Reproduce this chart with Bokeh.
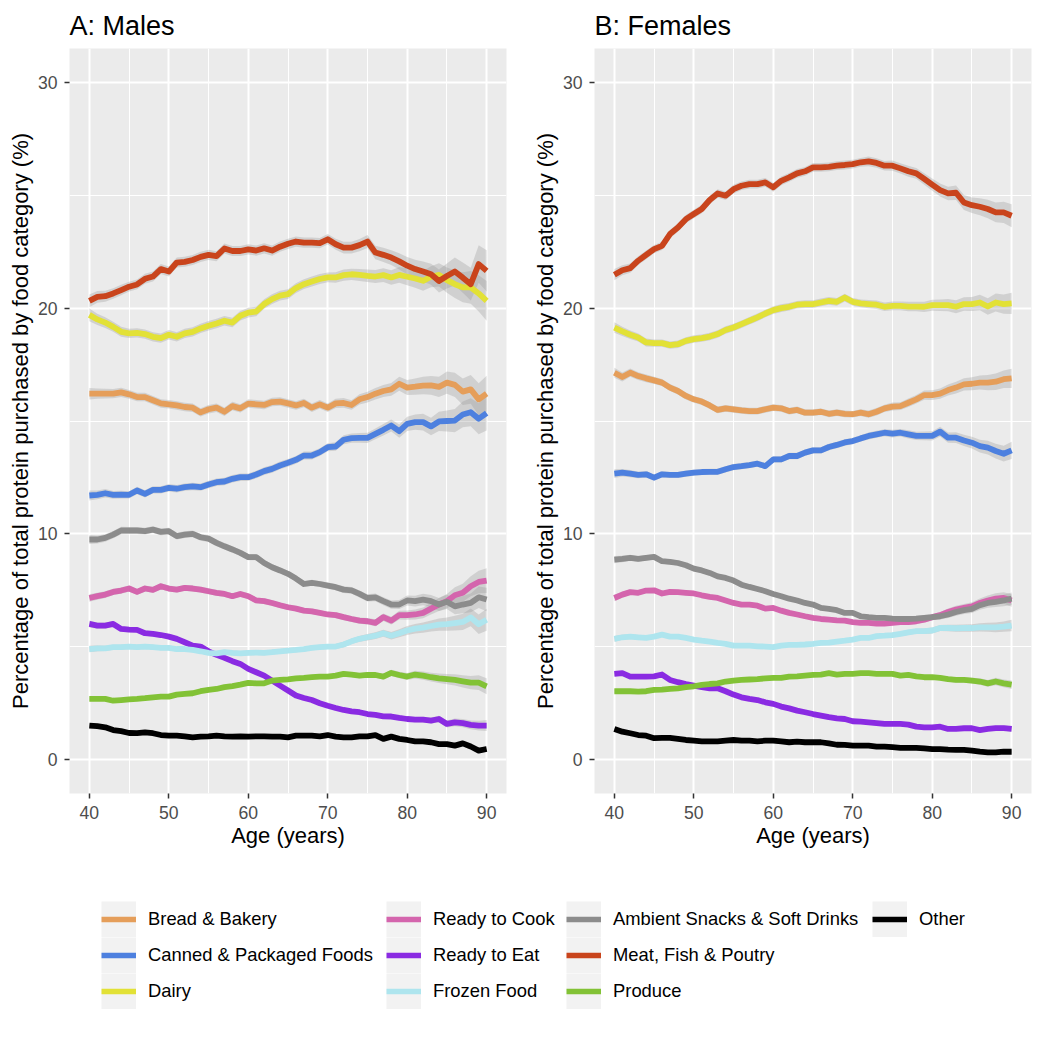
import numpy as np
from bokeh.plotting import figure
from bokeh.models import Range1d, FixedTicker, Legend, LegendItem
from bokeh.layouts import column, row
from bokeh.embed import file_html
from bokeh.resources import INLINE

FONT = "Liberation Sans"

ages = list(range(40, 91))

categories = ["Bread & Bakery", "Canned & Packaged Foods", "Dairy", "Ready to Cook",
              "Ready to Eat", "Frozen Food", "Ambient Snacks & Soft Drinks",
              "Meat, Fish & Poutry", "Produce", "Other"]
colors = ["#E59E5A", "#4D80DF", "#E2E136", "#D465AD", "#8A2BE2", "#AEE5EE",
          "#8C8C8C", "#C9441C", "#82C236", "#000000"]

x_ticks = [40, 50, 60, 70, 80, 90]
x_minor = [45, 55, 65, 75, 85]
y_ticks = [0, 10, 20, 30]
y_minor = [5, 15, 25]

# ---------------- Males ----------------
m_bread = [16.21, 16.21, 16.21, 16.21, 16.27, 16.18, 16.06, 16.06, 15.92, 15.78,
           15.74, 15.69, 15.62, 15.59, 15.38, 15.52, 15.59, 15.41, 15.66, 15.56,
           15.77, 15.74, 15.71, 15.84, 15.86, 15.78, 15.69, 15.80, 15.59, 15.74,
           15.59, 15.78, 15.80, 15.71, 15.96, 16.06, 16.21, 16.33, 16.40, 16.65,
           16.48, 16.52, 16.57, 16.58, 16.51, 16.70, 16.60, 16.30, 16.40, 15.96, 16.21]
m_canned = [11.70, 11.73, 11.80, 11.73, 11.74, 11.73, 11.92, 11.77, 11.95, 11.95,
            12.04, 12.00, 12.07, 12.10, 12.07, 12.19, 12.29, 12.32, 12.44, 12.51,
            12.51, 12.63, 12.78, 12.88, 13.03, 13.15, 13.28, 13.47, 13.47, 13.62,
            13.84, 13.87, 14.17, 14.24, 14.25, 14.25, 14.43, 14.61, 14.80, 14.55,
            14.87, 14.95, 14.95, 14.76, 14.98, 15.00, 15.02, 15.29, 15.39, 15.10, 15.35]
m_dairy = [19.70, 19.50, 19.36, 19.17, 18.95, 18.88, 18.90, 18.85, 18.73, 18.67,
           18.82, 18.73, 18.88, 18.95, 19.10, 19.22, 19.32, 19.44, 19.36, 19.66,
           19.80, 19.85, 20.18, 20.40, 20.55, 20.62, 20.89, 21.06, 21.18, 21.29,
           21.36, 21.36, 21.46, 21.50, 21.47, 21.43, 21.40, 21.46, 21.36, 21.47,
           21.39, 21.31, 21.21, 21.39, 21.47, 21.24, 21.06, 20.92, 20.92, 20.65, 20.32]
m_ready_cook = [7.16, 7.24, 7.31, 7.43, 7.49, 7.58, 7.43, 7.58, 7.52, 7.68,
                7.58, 7.53, 7.61, 7.58, 7.53, 7.46, 7.39, 7.34, 7.24, 7.34,
                7.24, 7.05, 7.02, 6.94, 6.84, 6.75, 6.69, 6.60, 6.57, 6.50,
                6.43, 6.40, 6.31, 6.23, 6.16, 6.13, 6.06, 6.31, 6.16, 6.40,
                6.40, 6.43, 6.50, 6.69, 6.87, 7.02, 7.28, 7.39, 7.68, 7.87, 7.93]
m_ready_eat = [6.01, 5.94, 5.94, 6.01, 5.79, 5.76, 5.75, 5.60, 5.57, 5.52,
               5.45, 5.35, 5.20, 5.05, 5.01, 4.80, 4.64, 4.51, 4.36, 4.24,
               4.02, 3.87, 3.72, 3.50, 3.28, 3.06, 2.84, 2.73, 2.64, 2.50,
               2.39, 2.29, 2.20, 2.14, 2.10, 2.02, 1.98, 1.92, 1.91, 1.85,
               1.80, 1.77, 1.77, 1.73, 1.80, 1.58, 1.65, 1.62, 1.54, 1.51, 1.51]
m_frozen = [4.90, 4.93, 4.93, 4.98, 4.98, 5.01, 4.98, 5.01, 4.98, 4.95,
            4.95, 4.90, 4.90, 4.86, 4.80, 4.73, 4.71, 4.76, 4.73, 4.71,
            4.73, 4.74, 4.73, 4.76, 4.80, 4.83, 4.86, 4.90, 4.95, 4.98,
            5.01, 5.01, 5.10, 5.24, 5.35, 5.42, 5.49, 5.60, 5.49, 5.60,
            5.72, 5.80, 5.85, 5.92, 5.98, 6.00, 6.05, 6.10, 6.30, 6.00, 6.20]
m_ambient = [9.75, 9.75, 9.82, 9.97, 10.15, 10.15, 10.15, 10.12, 10.19, 10.09,
             10.12, 9.90, 9.97, 10.00, 9.85, 9.79, 9.60, 9.45, 9.31, 9.16,
             8.97, 8.97, 8.71, 8.52, 8.38, 8.23, 8.02, 7.78, 7.83, 7.78,
             7.71, 7.64, 7.53, 7.50, 7.34, 7.16, 7.19, 7.02, 6.87, 6.87,
             7.05, 7.02, 7.09, 7.02, 6.87, 6.99, 6.79, 6.87, 6.94, 7.19, 7.09]
m_meat = [20.32, 20.50, 20.53, 20.65, 20.80, 20.95, 21.05, 21.30, 21.40, 21.73,
          21.62, 22.02, 22.05, 22.13, 22.27, 22.36, 22.30, 22.64, 22.53, 22.53,
          22.60, 22.55, 22.65, 22.55, 22.72, 22.85, 22.95, 22.90, 22.90, 22.88,
          23.05, 22.83, 22.68, 22.68, 22.79, 22.95, 22.46, 22.36, 22.24, 22.07,
          21.88, 21.73, 21.62, 21.50, 21.20, 21.42, 21.62, 21.35, 21.06, 21.95, 21.65]
m_produce = [2.69, 2.69, 2.69, 2.61, 2.64, 2.67, 2.69, 2.72, 2.76, 2.79,
             2.79, 2.88, 2.91, 2.94, 3.03, 3.09, 3.13, 3.21, 3.26, 3.32,
             3.40, 3.38, 3.38, 3.50, 3.53, 3.56, 3.60, 3.62, 3.65, 3.68,
             3.68, 3.72, 3.80, 3.77, 3.72, 3.75, 3.75, 3.68, 3.84, 3.75,
             3.68, 3.77, 3.72, 3.65, 3.60, 3.57, 3.53, 3.47, 3.41, 3.41, 3.25]
m_other = [1.51, 1.48, 1.43, 1.31, 1.26, 1.18, 1.17, 1.21, 1.17, 1.09,
           1.06, 1.06, 1.03, 0.99, 1.02, 1.03, 1.06, 1.03, 1.02, 1.03,
           1.02, 1.03, 1.03, 1.02, 1.02, 0.99, 1.06, 1.06, 1.06, 1.03,
           1.09, 1.02, 0.99, 0.99, 1.03, 1.03, 1.09, 0.92, 1.02, 0.92,
           0.87, 0.81, 0.81, 0.77, 0.69, 0.69, 0.62, 0.72, 0.58, 0.40, 0.47]
# half-width of the confidence band (for a ~10% category), males
m_band = [0.20, 0.18, 0.17, 0.16, 0.16, 0.15, 0.15, 0.15, 0.15, 0.15,
          0.15, 0.15, 0.15, 0.15, 0.15, 0.15, 0.15, 0.15, 0.15, 0.15,
          0.15, 0.15, 0.15, 0.15, 0.15, 0.15, 0.15, 0.15, 0.15, 0.15,
          0.15, 0.16, 0.17, 0.17, 0.18, 0.19, 0.20, 0.21, 0.22, 0.24,
          0.26, 0.28, 0.30, 0.32, 0.35, 0.38, 0.42, 0.46, 0.50, 0.56, 0.62]

# ---------------- Females ----------------
f_bread = [17.14, 16.95, 17.14, 16.99, 16.89, 16.80, 16.70, 16.48, 16.33, 16.11,
           15.96, 15.86, 15.69, 15.49, 15.56, 15.52, 15.47, 15.44, 15.44, 15.52,
           15.59, 15.56, 15.44, 15.49, 15.37, 15.37, 15.41, 15.32, 15.37, 15.32,
           15.30, 15.37, 15.30, 15.41, 15.56, 15.64, 15.66, 15.81, 15.96, 16.15,
           16.15, 16.21, 16.37, 16.48, 16.62, 16.65, 16.70, 16.70, 16.74, 16.85, 16.89]
f_canned = [12.67, 12.71, 12.67, 12.61, 12.64, 12.49, 12.64, 12.61, 12.61, 12.67,
            12.71, 12.74, 12.75, 12.75, 12.86, 12.96, 13.00, 13.05, 13.11, 13.00,
            13.30, 13.30, 13.45, 13.45, 13.60, 13.70, 13.70, 13.85, 13.94, 14.05,
            14.11, 14.23, 14.34, 14.41, 14.48, 14.44, 14.48, 14.41, 14.34, 14.34,
            14.34, 14.53, 14.26, 14.26, 14.14, 14.04, 13.89, 13.82, 13.67, 13.55, 13.70]
f_dairy = [19.14, 18.97, 18.82, 18.70, 18.48, 18.45, 18.45, 18.36, 18.40, 18.55,
           18.63, 18.67, 18.74, 18.85, 19.03, 19.14, 19.29, 19.44, 19.59, 19.76,
           19.91, 20.00, 20.06, 20.15, 20.18, 20.18, 20.25, 20.32, 20.28, 20.47,
           20.28, 20.21, 20.18, 20.15, 20.06, 20.10, 20.10, 20.07, 20.07, 20.06,
           20.13, 20.13, 20.13, 20.06, 20.18, 20.18, 20.25, 20.07, 20.25, 20.18, 20.21]
f_ready_cook = [7.16, 7.31, 7.42, 7.39, 7.49, 7.50, 7.36, 7.43, 7.42, 7.39,
                7.36, 7.28, 7.21, 7.16, 7.05, 6.94, 6.87, 6.87, 6.82, 6.69,
                6.72, 6.60, 6.50, 6.43, 6.35, 6.28, 6.23, 6.20, 6.17, 6.16,
                6.09, 6.06, 6.06, 6.03, 6.03, 6.06, 6.09, 6.09, 6.13, 6.20,
                6.31, 6.40, 6.54, 6.65, 6.72, 6.79, 6.94, 7.05, 7.13, 7.16, 7.05]
f_ready_eat = [3.80, 3.83, 3.68, 3.68, 3.68, 3.69, 3.77, 3.53, 3.43, 3.35,
               3.28, 3.21, 3.16, 3.16, 3.03, 2.88, 2.76, 2.69, 2.64, 2.54,
               2.47, 2.35, 2.27, 2.17, 2.10, 2.02, 1.95, 1.88, 1.83, 1.80,
               1.70, 1.68, 1.65, 1.62, 1.58, 1.58, 1.58, 1.55, 1.46, 1.43,
               1.43, 1.46, 1.36, 1.36, 1.39, 1.39, 1.31, 1.36, 1.40, 1.40, 1.36]
f_frozen = [5.35, 5.42, 5.45, 5.42, 5.39, 5.45, 5.54, 5.45, 5.45, 5.39,
            5.32, 5.27, 5.23, 5.17, 5.13, 5.05, 5.05, 5.05, 5.02, 5.01,
            4.98, 5.05, 5.08, 5.08, 5.10, 5.13, 5.17, 5.18, 5.23, 5.27,
            5.32, 5.39, 5.39, 5.47, 5.49, 5.52, 5.57, 5.64, 5.69, 5.69,
            5.72, 5.83, 5.83, 5.82, 5.83, 5.83, 5.86, 5.86, 5.86, 5.89, 5.94]
f_ambient = [8.86, 8.89, 8.94, 8.89, 8.94, 8.98, 8.79, 8.76, 8.71, 8.61,
             8.46, 8.38, 8.27, 8.12, 8.05, 7.93, 7.75, 7.65, 7.56, 7.46,
             7.34, 7.24, 7.13, 7.05, 6.94, 6.87, 6.72, 6.68, 6.62, 6.50,
             6.50, 6.35, 6.31, 6.28, 6.28, 6.25, 6.23, 6.23, 6.25, 6.28,
             6.31, 6.35, 6.43, 6.54, 6.62, 6.68, 6.84, 6.94, 6.99, 7.05, 7.13]
f_meat = [21.48, 21.68, 21.77, 22.10, 22.36, 22.61, 22.76, 23.28, 23.57, 23.94,
          24.17, 24.39, 24.79, 25.08, 24.98, 25.27, 25.42, 25.49, 25.49, 25.57,
          25.35, 25.64, 25.79, 25.97, 26.06, 26.23, 26.23, 26.26, 26.31, 26.34,
          26.38, 26.46, 26.50, 26.43, 26.31, 26.31, 26.19, 26.06, 25.97, 25.72,
          25.47, 25.23, 25.08, 25.11, 24.68, 24.56, 24.49, 24.39, 24.24, 24.24, 24.09]
f_produce = [3.03, 3.03, 3.03, 3.01, 3.03, 3.09, 3.10, 3.13, 3.16, 3.21,
             3.25, 3.31, 3.35, 3.38, 3.46, 3.50, 3.53, 3.55, 3.57, 3.60,
             3.62, 3.62, 3.68, 3.69, 3.72, 3.75, 3.77, 3.83, 3.77, 3.80,
             3.80, 3.83, 3.83, 3.80, 3.80, 3.80, 3.72, 3.75, 3.69, 3.65,
             3.65, 3.62, 3.57, 3.53, 3.53, 3.50, 3.46, 3.38, 3.46, 3.38, 3.32]
f_other = [1.36, 1.24, 1.17, 1.09, 1.06, 0.95, 0.96, 0.96, 0.92, 0.87,
           0.84, 0.81, 0.81, 0.81, 0.84, 0.87, 0.84, 0.84, 0.81, 0.84,
           0.84, 0.81, 0.77, 0.80, 0.77, 0.77, 0.77, 0.72, 0.66, 0.65,
           0.62, 0.62, 0.62, 0.58, 0.58, 0.55, 0.52, 0.52, 0.52, 0.50,
           0.47, 0.47, 0.44, 0.43, 0.43, 0.40, 0.35, 0.32, 0.32, 0.35, 0.35]
f_band = [0.17, 0.15, 0.14, 0.13, 0.13, 0.12, 0.12, 0.12, 0.12, 0.12,
          0.12, 0.12, 0.12, 0.12, 0.12, 0.12, 0.12, 0.12, 0.12, 0.12,
          0.12, 0.12, 0.12, 0.12, 0.12, 0.12, 0.12, 0.12, 0.12, 0.12,
          0.12, 0.12, 0.13, 0.13, 0.13, 0.14, 0.14, 0.15, 0.15, 0.16,
          0.17, 0.18, 0.19, 0.20, 0.21, 0.22, 0.24, 0.26, 0.28, 0.30, 0.33]

males = [m_bread, m_canned, m_dairy, m_ready_cook, m_ready_eat, m_frozen,
         m_ambient, m_meat, m_produce, m_other]
females = [f_bread, f_canned, f_dairy, f_ready_cook, f_ready_eat, f_frozen,
           f_ambient, f_meat, f_produce, f_other]


def style_axis(ax):
    ax.axis_line_color = None
    ax.major_tick_line_color = "#333333"
    ax.major_tick_line_width = 1.5
    ax.major_tick_out = 5
    ax.major_tick_in = 0
    ax.minor_tick_line_color = None
    ax.major_label_text_font = FONT
    ax.major_label_text_font_size = "17.6px"
    ax.major_label_text_color = "#4D4D4D"
    ax.axis_label_text_font = FONT
    ax.axis_label_text_font_size = "22px"
    ax.axis_label_text_font_style = "normal"
    ax.axis_label_text_color = "black"


def make_panel(title, series, band, width, left, right):
    p = figure(width=width, height=860, output_backend="svg", toolbar_location=None,
               x_range=Range1d(37.5, 92.5), y_range=Range1d(-1.5, 31.5),
               min_border_left=left, min_border_right=right,
               min_border_top=48, min_border_bottom=67, title=title)
    p.background_fill_color = "#EBEBEB"
    p.border_fill_color = "white"
    p.outline_line_color = None
    p.title.text_font = FONT
    p.title.text_font_size = "27px"
    p.title.text_font_style = "normal"
    p.title.text_color = "black"
    p.title.align = "left"
    p.title.standoff = 16

    p.xaxis.ticker = FixedTicker(ticks=x_ticks, minor_ticks=x_minor)
    p.yaxis.ticker = FixedTicker(ticks=y_ticks, minor_ticks=y_minor)
    p.xaxis.axis_label = "Age (years)"
    p.yaxis.axis_label = "Percentage of total protein purchased by food category (%)"
    style_axis(p.xaxis[0])
    style_axis(p.yaxis[0])
    p.xaxis.major_label_standoff = 7
    p.xaxis.axis_label_standoff = 1
    p.yaxis.major_label_standoff = 7
    p.yaxis.axis_label_standoff = 2

    for g in (p.xgrid[0], p.ygrid[0]):
        g.grid_line_color = "white"
        g.grid_line_width = 2
        g.minor_grid_line_color = "white"
        g.minor_grid_line_width = 1

    x = np.array(ages)
    b = np.array(band)
    for vals in series:
        v = np.array(vals)
        hw = b * np.sqrt(v / 10.0)
        p.varea(x=x, y1=v - hw, y2=v + hw, fill_color="#999999", fill_alpha=0.32)
    for vals, c in zip(series, colors):
        p.line(x=ages, y=vals, line_color=c, line_width=5.8, line_join="round")
    return p


pA = make_panel("A: Males", males, m_band, 520, 69, 14)
pB = make_panel("B: Females", females, f_band, 528, 74, 17)

# ---------------- Legend ----------------
# legend-only figure: its renderers carry the series but lie outside its 0..1 view
leg = figure(width=1048, height=185, output_backend="svg", toolbar_location=None,
             x_range=Range1d(0, 1), y_range=Range1d(0, 1), min_border=0)
leg.axis.visible = False
leg.grid.visible = False
leg.outline_line_color = None
bg_r = leg.line(x=ages, y=m_bread, line_color="#F2F2F2", line_width=36)
key_r = [leg.line(x=ages, y=vals, line_color=c, line_width=5.5)
         for vals, c in zip(males, colors)]

col_groups = [[0, 1, 2], [3, 4, 5], [6, 7, 8], [9]]
col_x = [101, 386, 566, 872]
for idxs, cx in zip(col_groups, col_x):
    items = [LegendItem(label=categories[i], renderers=[bg_r, key_r[i]]) for i in idxs]
    L = Legend(items=items, location=(cx, 36 + (3 - len(idxs)) * 36),
               orientation="vertical", padding=0, margin=0, spacing=0,
               glyph_width=35, glyph_height=36, label_height=36,
               label_standoff=12, label_text_font=FONT, label_text_font_size="18.4px",
               label_text_color="black", border_line_color=None,
               background_fill_alpha=0)
    leg.add_layout(L)

layout = column(row(pA, pB), leg)
open("out.html", "w").write(file_html(layout, INLINE))
